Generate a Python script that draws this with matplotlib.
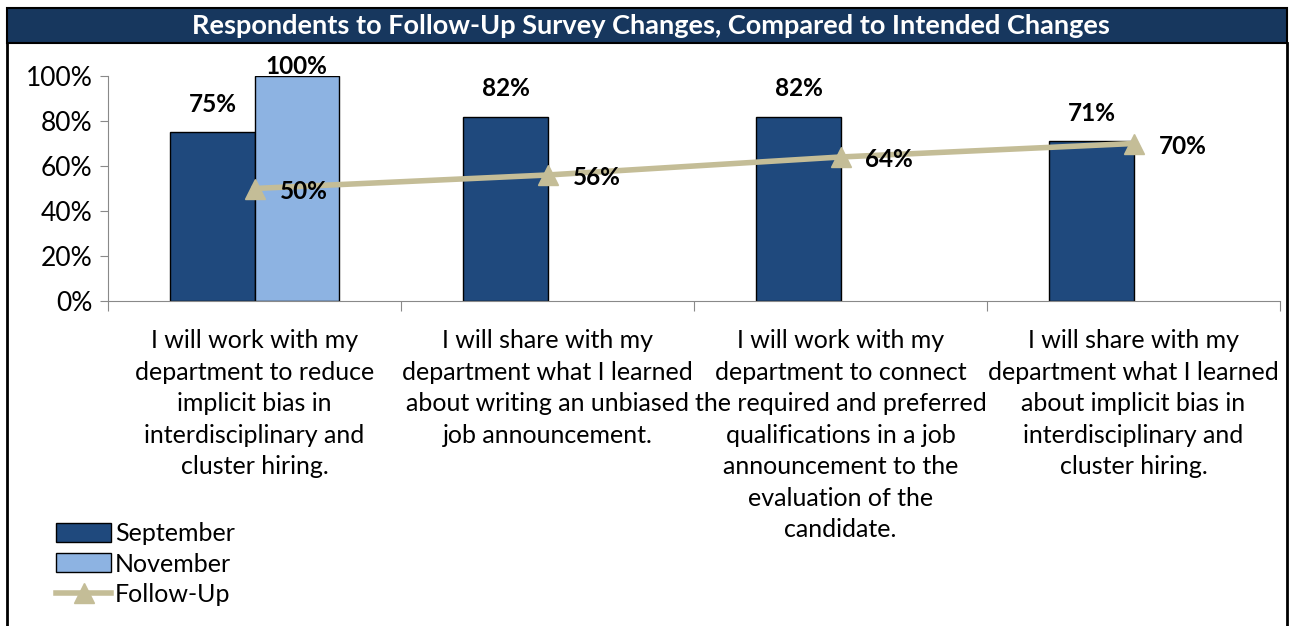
import matplotlib.pyplot as plt
import numpy as np
from matplotlib.patches import Rectangle
from matplotlib.lines import Line2D

plt.rcParams['font.family'] = ['Lato', 'DejaVu Sans']

categories = [
    "I will work with my\ndepartment to reduce\nimplicit bias in\ninterdisciplinary and\ncluster hiring.",
    "I will share with my\ndepartment what I learned\nabout writing an unbiased\njob announcement.",
    "I will work with my\ndepartment to connect\nthe required and preferred\nqualifications in a job\nannouncement to the\nevaluation of the\ncandidate.",
    "I will share with my\ndepartment what I learned\nabout implicit bias in\ninterdisciplinary and\ncluster hiring.",
]
september = [0.75, 0.82, 0.82, 0.71]
november = [1.00, np.nan, np.nan, np.nan]
follow_up = [0.50, 0.56, 0.64, 0.70]
title = "Respondents to Follow-Up Survey Changes, Compared to Intended Changes"

sep_color = '#1F497D'
nov_color = '#8DB3E2'
line_color = '#C4BD97'
navy = '#17375E'

W, H = 1294, 626
fig = plt.figure(figsize=(W / 100, H / 100), dpi=100)

# title band and frame
fig.patches.append(Rectangle((7 / W, 1 - 43 / H), 1280 / W, 35 / H, transform=fig.transFigure,
                             facecolor=navy, edgecolor='black', lw=1.5, zorder=0))
fig.text(651 / W, 1 - 26 / H, title, color='white', fontsize=19.5, fontweight='bold',
         ha='center', va='center')
fig.lines.append(Line2D([7 / W, 7 / W], [0, 1 - 43 / H], transform=fig.transFigure, color='black', lw=2))
fig.lines.append(Line2D([1287 / W, 1287 / W], [0, 1 - 43 / H], transform=fig.transFigure, color='black', lw=2))

ax = fig.add_axes([108 / W, 1 - 301 / H, (1280 - 108) / W, 225 / H])
x = np.arange(len(categories))
w = 0.287
ax.bar(x - w / 2, september, w, color=sep_color, edgecolor='black', lw=1, label='September', zorder=2)
ax.bar(x + w / 2, november, w, color=nov_color, edgecolor='black', lw=1, label='November', zorder=2)
ax.plot(x, follow_up, color=line_color, lw=4, marker='^', markersize=15, label='Follow-Up', zorder=3)

for xi, v in zip(x, september):
    off = 8 if v > 0.95 else 20
    ax.annotate(f"{v:.0%}", (xi - w / 2, v), xytext=(0, off), textcoords='offset points',
                ha='center', va='center', fontsize=17.5, fontweight='bold')
for xi, v in zip(x, november):
    if not np.isnan(v):
        ax.annotate(f"{v:.0%}", (xi + w / 2, v), xytext=(0, 7), textcoords='offset points',
                    ha='center', va='center', fontsize=17.5, fontweight='bold')
for xi, v in zip(x, follow_up):
    ax.annotate(f"{v:.0%}", (xi, v), xytext=(18, -2), textcoords='offset points',
                ha='left', va='center', fontsize=17.5, fontweight='bold')

ax.set_xlim(-0.5, len(categories) - 0.5)
ax.set_ylim(0, 1)
ax.set_yticks(np.linspace(0, 1, 6))
ax.set_yticklabels([f"{int(t * 100)}%" for t in np.linspace(0, 1, 6)], fontsize=19)
ax.set_xticks(np.arange(len(categories) + 1) - 0.5)
ax.set_xticklabels([])
ax.tick_params(axis='x', length=7, color='#898989', direction='out')
ax.tick_params(axis='y', length=6, color='#898989', direction='out', pad=5)
for xi, c in zip(x, categories):
    ax.text(xi, -0.125, c, ha='center', va='top', fontsize=18, linespacing=1.45,
            transform=ax.get_xaxis_transform())
for s in ['top', 'right']:
    ax.spines[s].set_visible(False)
for s in ['left', 'bottom']:
    ax.spines[s].set_color('#898989')

handles, labels = ax.get_legend_handles_labels()
order = [labels.index(n) for n in ['September', 'November', 'Follow-Up']]
fig.legend([handles[i] for i in order], [labels[i] for i in order], loc='lower left',
           bbox_to_anchor=(56 / W, 20 / H), frameon=False,
           fontsize=18, handlelength=2.2, handleheight=0.8, labelspacing=0.3, handletextpad=0.15,
           borderaxespad=0, borderpad=0)

fig.savefig('out.png', dpi=100)
